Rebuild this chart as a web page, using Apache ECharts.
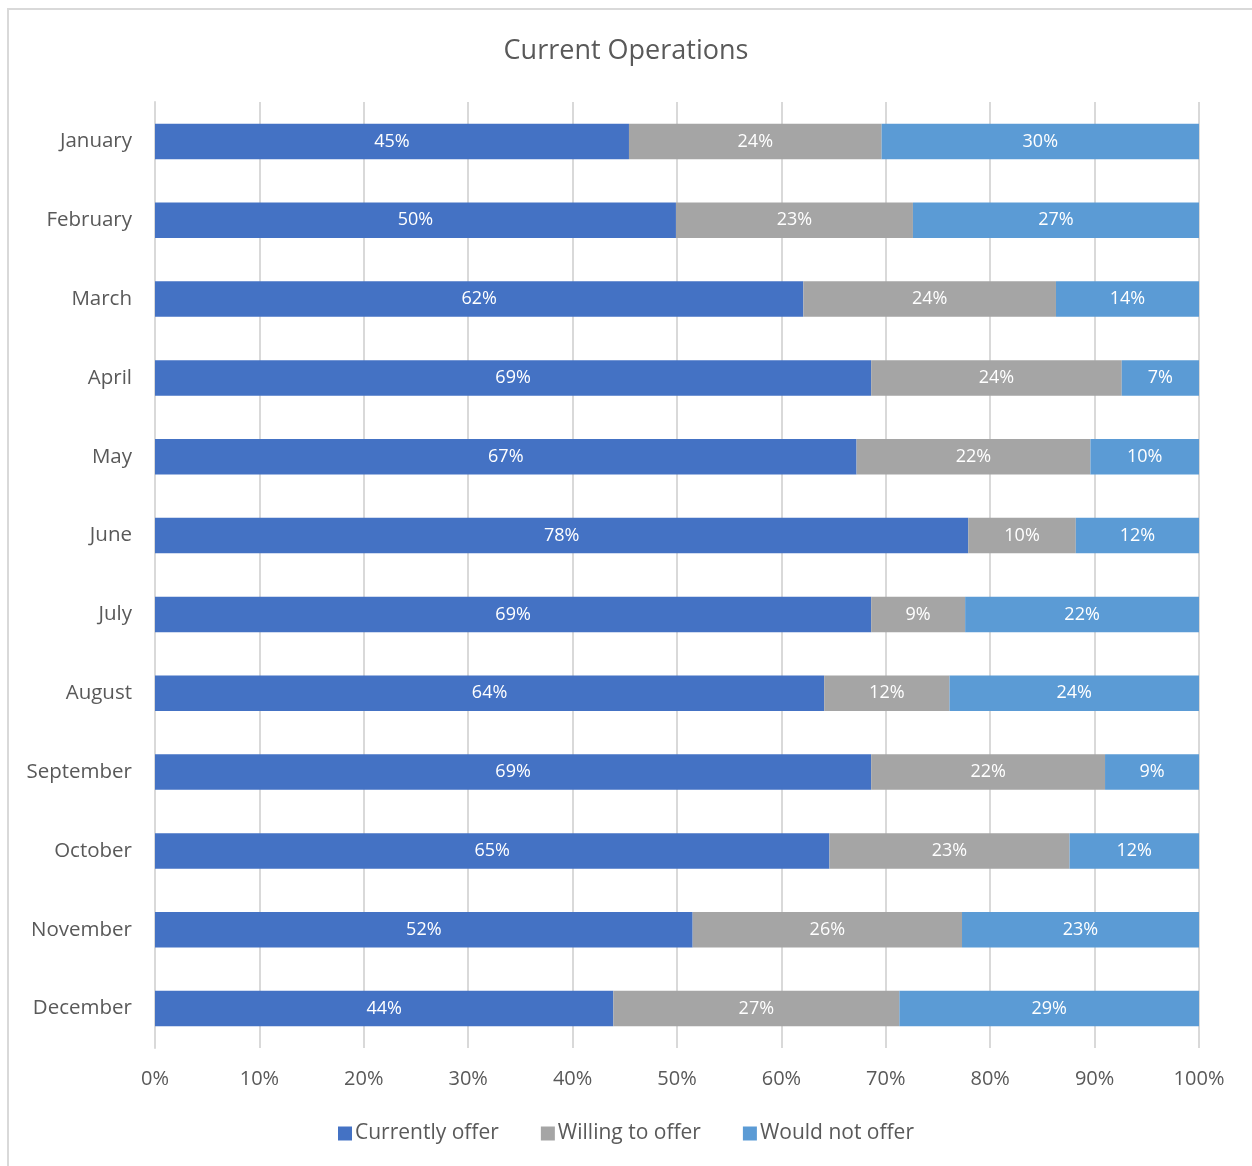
<!DOCTYPE html>
<html>
<head>
<meta charset="utf-8">
<script src="https://cdn.jsdelivr.net/npm/echarts@6/dist/echarts.min.js"></script>
<style>
  html, body { margin: 0; padding: 0; background: #fff; }
  #chart { width: 1252px; height: 1166px; }
  #frame { position: absolute; left: 7px; top: 8px; width: 1270px; height: 1180px;
           border: 2px solid #d9d9d9; pointer-events: none; }
</style>
</head>
<body>
<div id="chart"></div>
<div id="frame"></div>
<script>
// Monthly share of operations (percent of respondents)
const months = ['January', 'February', 'March', 'April', 'May', 'June',
                'July', 'August', 'September', 'October', 'November', 'December'];
const currentlyOffer = [45.4, 49.9, 62.1, 68.6, 67.2, 77.9, 68.6, 64.1, 68.6, 64.6, 51.5, 43.9];
const willingToOffer = [24.2, 22.7, 24.2, 24.0, 22.4, 10.3, 9.0, 12.0, 22.4, 23.0, 25.8, 27.4];
const wouldNotOffer  = [30.4, 27.4, 13.7, 7.4, 10.4, 11.8, 22.4, 23.9, 9.0, 12.4, 22.7, 28.7];
const xTicks = [0, 10, 20, 30, 40, 50, 60, 70, 80, 90, 100];

const FONT = 'Open Sans';
const TEXT = '#595959';

function series(name, data, color) {
  return {
    name, type: 'bar', stack: 'total', data, barWidth: '45%',
    itemStyle: { color },
    label: {
      show: true, position: 'inside', color: '#ffffff',
      fontFamily: FONT, fontSize: 18,
      formatter: p => Math.round(p.value) + '%'
    }
  };
}

const chart = echarts.init(document.getElementById('chart'));
chart.setOption({
  animation: false,
  textStyle: { fontFamily: FONT },
  title: {
    text: 'Current Operations', left: 'center', top: 33,
    textStyle: { fontFamily: FONT, fontSize: 27, fontWeight: 'normal', color: TEXT }
  },
  legend: {
    bottom: 17, left: 'center', itemWidth: 14, itemHeight: 14, itemGap: 42,
    icon: 'rect',
    textStyle: { fontFamily: FONT, fontSize: 21, color: TEXT, padding: [0, 0, 0, -2] },
    data: ['Currently offer', 'Willing to offer', 'Would not offer']
  },
  grid: { left: 155, right: 53, top: 102, bottom: 118, containLabel: false },
  xAxis: {
    type: 'value', min: xTicks[0], max: xTicks[xTicks.length - 1], interval: 10,
    axisLine: { show: false }, axisTick: { show: false },
    splitLine: { show: true, lineStyle: { color: '#d9d9d9', width: 2 } },
    axisLabel: { fontFamily: FONT, fontSize: 20, color: TEXT, margin: 21,
                 formatter: v => v + '%' }
  },
  yAxis: {
    type: 'category', data: months, inverse: true,
    axisLine: { show: true, lineStyle: { color: '#d9d9d9', width: 2 } },
    axisTick: { show: false },
    axisLabel: { fontFamily: FONT, fontSize: 20.5, color: TEXT, margin: 23 }
  },
  series: [
    series('Currently offer', currentlyOffer, '#4472C4'),
    series('Willing to offer', willingToOffer, '#A5A5A5'),
    series('Would not offer', wouldNotOffer, '#5B9BD5')
  ]
});
</script>
</body>
</html>
